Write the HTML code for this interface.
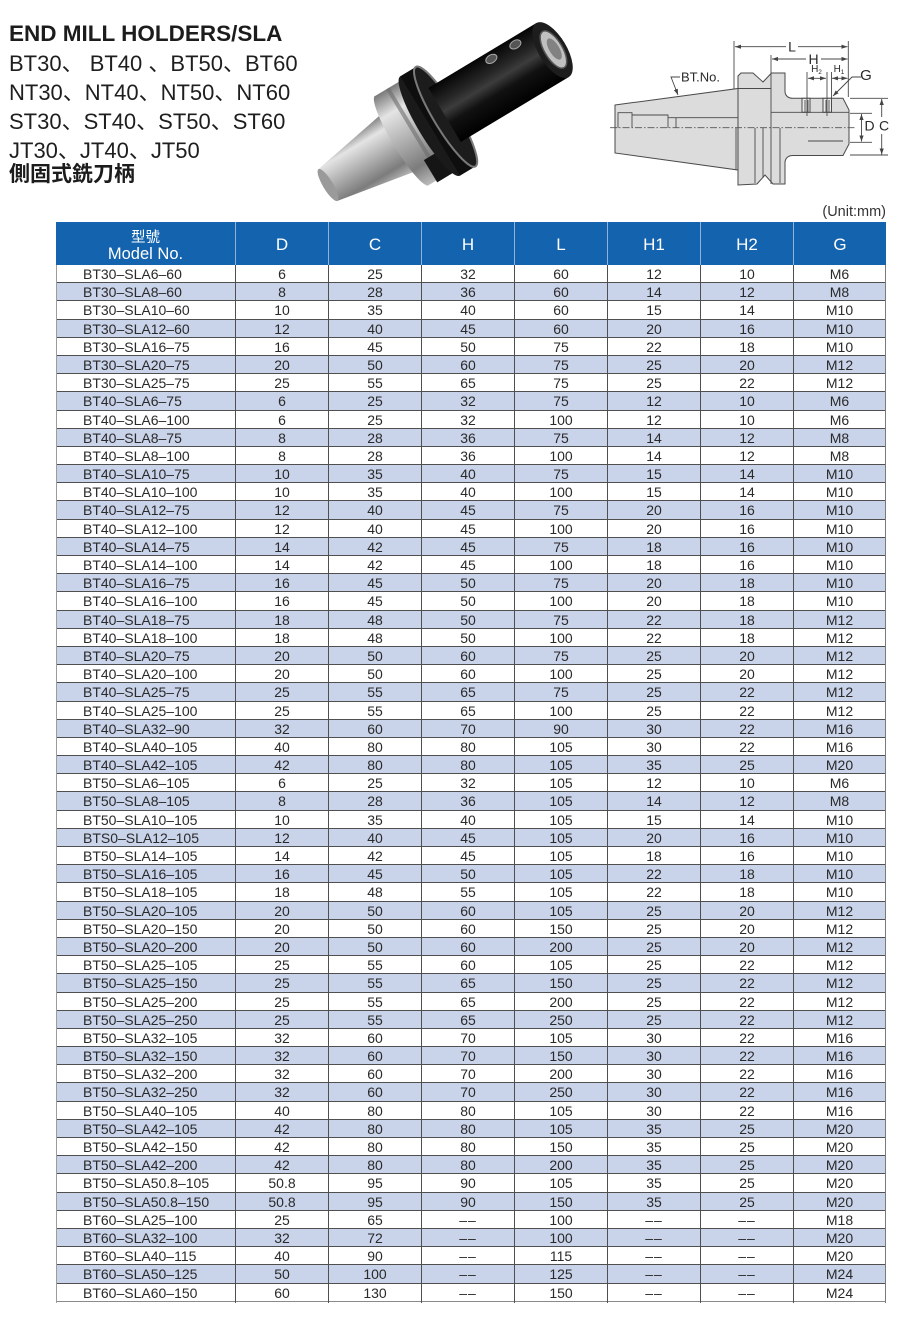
<!DOCTYPE html>
<html><head><meta charset="utf-8">
<style>
html,body{margin:0;padding:0;background:#fff;}
body{width:900px;height:1317px;position:relative;overflow:hidden;font-family:"Liberation Sans","Noto Sans CJK JP",sans-serif;}
.ab{position:absolute;white-space:nowrap;}
.title{left:9px;top:21px;font-size:22.5px;font-weight:bold;line-height:26px;color:#1c1c1c;}
.ln{left:9px;font-size:22px;line-height:29px;color:#1e1e1e;font-family:"Liberation Sans","Noto Sans CJK JP",sans-serif;}
.cjk{left:9px;top:162px;font-size:21px;line-height:26px;font-weight:bold;color:#1c1c1c;font-family:"Liberation Sans","Noto Sans CJK TC",sans-serif;}
.unit{right:14px;top:204px;font-size:14.5px;line-height:16px;color:#333;}
.hd{position:absolute;left:56px;top:222px;width:830px;height:43px;background:#1463ae;display:grid;grid-template-columns:179px repeat(7,93px);color:#fff;}
.hd span{border-left:1px solid #8fb2da;text-align:center;font-size:17px;line-height:41px;padding-top:2px;box-sizing:border-box;height:43px;}
.hd span:first-child{border-left:none;padding-top:8px;line-height:16px;}
.hd span:first-child b{display:block;font-weight:normal;font-size:14.5px;line-height:16px;font-family:"Liberation Sans","Noto Sans CJK TC",sans-serif;}
.hd span:first-child i{display:block;font-style:normal;font-size:16.5px;line-height:17px;}
.t{position:absolute;left:56px;top:265px;width:830px;font-size:14px;color:#2a2a2a;}
.t div{display:grid;grid-template-columns:179px repeat(7,93px);height:18.193px;box-sizing:border-box;border-bottom:1px solid #4f4f4f;}
.t div:nth-child(even){background:#c9d3e9;}
.t div:last-child{border-bottom-color:#8a8a8a;}
.t span{border-left:1px solid #4f4f4f;text-align:center;line-height:19.5px;white-space:nowrap;}
.t span:first-child{border-left-color:#9c9c9c;text-align:left;padding-left:26px;}
.t span:last-child{border-right:1px solid #7a7a7a;}
.d{letter-spacing:1px;}
</style></head><body>

<svg class="ab" style="left:0;top:0" width="900" height="222" viewBox="0 0 900 222">
<defs>
<linearGradient id="sv" x1="0" y1="0" x2="0" y2="1">
<stop offset="0" stop-color="#7a7a7a"/><stop offset="0.22" stop-color="#e4e4e4"/><stop offset="0.5" stop-color="#b2b2b2"/><stop offset="0.8" stop-color="#7c7c7c"/><stop offset="1" stop-color="#bcbcbc"/>
</linearGradient>
<linearGradient id="bk" x1="0" y1="0" x2="0" y2="1">
<stop offset="0" stop-color="#050505"/><stop offset="0.3" stop-color="#262626"/><stop offset="0.45" stop-color="#3c3c3c"/><stop offset="0.65" stop-color="#111"/><stop offset="1" stop-color="#000"/>
</linearGradient>
<marker id="a" viewBox="0 0 10 10" refX="10" refY="5" markerWidth="6" markerHeight="6" markerUnits="userSpaceOnUse" orient="auto-start-reverse"><path d="M0,1.5 L10,5 L0,8.5z" fill="#444"/></marker>
</defs>

<!-- photo -->
<g transform="translate(328,185) rotate(-31)">
<path d="M0,-18.5 L86,-34 L86,34 L0,18.5 Z" fill="url(#sv)"/>
<ellipse cx="0" cy="0" rx="5" ry="18.5" fill="#9a9a9a"/>
<rect x="85" y="-52" width="30" height="104" fill="url(#sv)"/>
<ellipse cx="86" cy="0" rx="9" ry="52" fill="url(#sv)"/>
<rect x="99" y="-52" width="4" height="104" fill="#6d6d6d" opacity="0.6"/>
<rect x="95" y="28" width="22" height="26" fill="#151515"/>
<ellipse cx="118" cy="2" rx="12" ry="58" fill="#1a1a1a"/>
<rect x="118" y="-56" width="18" height="116" fill="#0e0e0e"/>
<ellipse cx="136" cy="2" rx="12" ry="58" fill="#1c1c1c" stroke="#7a7a7a" stroke-width="2"/>
<rect x="136" y="-31.5" width="126" height="63" fill="url(#bk)"/>
<ellipse cx="262" cy="0" rx="14" ry="31.5" fill="#1d1d1d"/>
<ellipse cx="263" cy="0" rx="9" ry="21" fill="#c0c0c0" stroke="#555" stroke-width="1.5"/>
<ellipse cx="264" cy="0" rx="5" ry="12" fill="#828282"/>
<ellipse cx="205" cy="-24" rx="6" ry="4" fill="#555" stroke="#aaa" stroke-width="1"/>
<ellipse cx="233" cy="-24" rx="6" ry="4" fill="#555" stroke="#aaa" stroke-width="1"/>
</g>

<!-- technical drawing -->
<g stroke="#4a4a4a" stroke-width="1" fill="#dcdcdc">
<path d="M615,105 L738,88.5 L738,170 L615,153 Z"/>
<path d="M738,185 L738,76 L741,73 L753,73 L763,82 L771.5,73 L785,73 L785,92 Q786,98.3 793,98.3 L843,98.3 L849,110 L849,144 L843,155.5 L793,155.5 Q786,155.5 785,162 L785,184 L773,184 L765,175 L757,184 Z"/>
<rect x="802" y="98.3" width="8" height="14" fill="#ececec"/>
<rect x="823" y="98.3" width="8.5" height="14" fill="#ececec"/>
</g>
<g stroke="#4a4a4a" stroke-width="0.9" fill="none">
<path d="M618,128 V112.7 H632 V128"/>
<path d="M632,115 H668 V128"/>
<path d="M668,117.7 H738"/>
<path d="M676,117.7 V128"/>
<path d="M736,128 V170"/>
<path d="M755,128 V183 M763,128 V178 M780,128 V183 M771,55 V184"/>
<path d="M738,88.5 H771"/>
<path d="M771,112.3 H849"/>
<path d="M808,141 H843"/>
<path d="M805,100 V112 M808,100 V112 M826,100 V112 M829,100 V112"/>
<path d="M734,41 V89 M848.3,41 V97"/>
<path d="M807,72 V116 M827,72 V116 M831.5,72 V98"/>
<path d="M850,113.3 H872 M850,142.3 H872 M850,98.3 H888 M850,155 H888"/>
</g>
<path d="M610,127.7 H856" stroke="#555" stroke-width="0.9" stroke-dasharray="7 2 1.5 2" fill="none"/>
<g stroke="#444" stroke-width="0.9" fill="none">
<path d="M786,46.7 H735" marker-end="url(#a)"/>
<path d="M798,46.7 H847.5" marker-end="url(#a)"/>
<path d="M806,59 H772" marker-end="url(#a)"/>
<path d="M821,59 H847.5" marker-end="url(#a)"/>
<path d="M808,78.3 H826" marker-start="url(#a)" marker-end="url(#a)"/>
<path d="M832,78.3 H847.5" marker-start="url(#a)" marker-end="url(#a)"/>
<path d="M861.5,114 V141.5" marker-start="url(#a)" marker-end="url(#a)"/>
<path d="M881.7,117 V99" marker-end="url(#a)"/>
<path d="M881.7,134 V154.5" marker-end="url(#a)"/>
<path d="M861,77 H852 L833,96" marker-end="url(#a)"/>
<path d="M680,77 H671 L678,95" marker-end="url(#a)"/>
</g>
<g font-family="Liberation Sans, sans-serif" fill="#2a2a2a">
<text x="792" y="51.5" font-size="14" text-anchor="middle">L</text>
<text x="813.5" y="64" font-size="14" text-anchor="middle">H</text>
<text x="816.5" y="72" font-size="10" text-anchor="middle">H<tspan font-size="6.5" dy="2">2</tspan></text>
<text x="839" y="72" font-size="10" text-anchor="middle">H<tspan font-size="6.5" dy="2">1</tspan></text>
<text x="866" y="80" font-size="15" text-anchor="middle">G</text>
<text x="681" y="81.5" font-size="13">BT.No.</text>
<text x="864.5" y="130.5" font-size="14">D</text>
<text x="884" y="130.5" font-size="14" text-anchor="middle">C</text>
</g>
</svg>

<div class="ab title">END MILL HOLDERS/SLA</div>
<div class="ab ln" style="top:49px">BT30、 BT40 、BT50、BT60</div>
<div class="ab ln" style="top:78px">NT30、NT40、NT50、NT60</div>
<div class="ab ln" style="top:107px">ST30、ST40、ST50、ST60</div>
<div class="ab ln" style="top:136px">JT30、JT40、JT50</div>
<div class="ab cjk">側固式銑刀柄</div>
<div class="ab unit">(Unit:mm)</div>

<div class="hd"><span><b>型號</b><i>Model No.</i></span><span>D</span><span>C</span><span>H</span><span>L</span><span>H1</span><span>H2</span><span>G</span></div>

<div class="t">
<div><span>BT30–SLA6–60</span><span>6</span><span>25</span><span>32</span><span>60</span><span>12</span><span>10</span><span>M6</span></div>
<div><span>BT30–SLA8–60</span><span>8</span><span>28</span><span>36</span><span>60</span><span>14</span><span>12</span><span>M8</span></div>
<div><span>BT30–SLA10–60</span><span>10</span><span>35</span><span>40</span><span>60</span><span>15</span><span>14</span><span>M10</span></div>
<div><span>BT30–SLA12–60</span><span>12</span><span>40</span><span>45</span><span>60</span><span>20</span><span>16</span><span>M10</span></div>
<div><span>BT30–SLA16–75</span><span>16</span><span>45</span><span>50</span><span>75</span><span>22</span><span>18</span><span>M10</span></div>
<div><span>BT30–SLA20–75</span><span>20</span><span>50</span><span>60</span><span>75</span><span>25</span><span>20</span><span>M12</span></div>
<div><span>BT30–SLA25–75</span><span>25</span><span>55</span><span>65</span><span>75</span><span>25</span><span>22</span><span>M12</span></div>
<div><span>BT40–SLA6–75</span><span>6</span><span>25</span><span>32</span><span>75</span><span>12</span><span>10</span><span>M6</span></div>
<div><span>BT40–SLA6–100</span><span>6</span><span>25</span><span>32</span><span>100</span><span>12</span><span>10</span><span>M6</span></div>
<div><span>BT40–SLA8–75</span><span>8</span><span>28</span><span>36</span><span>75</span><span>14</span><span>12</span><span>M8</span></div>
<div><span>BT40–SLA8–100</span><span>8</span><span>28</span><span>36</span><span>100</span><span>14</span><span>12</span><span>M8</span></div>
<div><span>BT40–SLA10–75</span><span>10</span><span>35</span><span>40</span><span>75</span><span>15</span><span>14</span><span>M10</span></div>
<div><span>BT40–SLA10–100</span><span>10</span><span>35</span><span>40</span><span>100</span><span>15</span><span>14</span><span>M10</span></div>
<div><span>BT40–SLA12–75</span><span>12</span><span>40</span><span>45</span><span>75</span><span>20</span><span>16</span><span>M10</span></div>
<div><span>BT40–SLA12–100</span><span>12</span><span>40</span><span>45</span><span>100</span><span>20</span><span>16</span><span>M10</span></div>
<div><span>BT40–SLA14–75</span><span>14</span><span>42</span><span>45</span><span>75</span><span>18</span><span>16</span><span>M10</span></div>
<div><span>BT40–SLA14–100</span><span>14</span><span>42</span><span>45</span><span>100</span><span>18</span><span>16</span><span>M10</span></div>
<div><span>BT40–SLA16–75</span><span>16</span><span>45</span><span>50</span><span>75</span><span>20</span><span>18</span><span>M10</span></div>
<div><span>BT40–SLA16–100</span><span>16</span><span>45</span><span>50</span><span>100</span><span>20</span><span>18</span><span>M10</span></div>
<div><span>BT40–SLA18–75</span><span>18</span><span>48</span><span>50</span><span>75</span><span>22</span><span>18</span><span>M12</span></div>
<div><span>BT40–SLA18–100</span><span>18</span><span>48</span><span>50</span><span>100</span><span>22</span><span>18</span><span>M12</span></div>
<div><span>BT40–SLA20–75</span><span>20</span><span>50</span><span>60</span><span>75</span><span>25</span><span>20</span><span>M12</span></div>
<div><span>BT40–SLA20–100</span><span>20</span><span>50</span><span>60</span><span>100</span><span>25</span><span>20</span><span>M12</span></div>
<div><span>BT40–SLA25–75</span><span>25</span><span>55</span><span>65</span><span>75</span><span>25</span><span>22</span><span>M12</span></div>
<div><span>BT40–SLA25–100</span><span>25</span><span>55</span><span>65</span><span>100</span><span>25</span><span>22</span><span>M12</span></div>
<div><span>BT40–SLA32–90</span><span>32</span><span>60</span><span>70</span><span>90</span><span>30</span><span>22</span><span>M16</span></div>
<div><span>BT40–SLA40–105</span><span>40</span><span>80</span><span>80</span><span>105</span><span>30</span><span>22</span><span>M16</span></div>
<div><span>BT40–SLA42–105</span><span>42</span><span>80</span><span>80</span><span>105</span><span>35</span><span>25</span><span>M20</span></div>
<div><span>BT50–SLA6–105</span><span>6</span><span>25</span><span>32</span><span>105</span><span>12</span><span>10</span><span>M6</span></div>
<div><span>BT50–SLA8–105</span><span>8</span><span>28</span><span>36</span><span>105</span><span>14</span><span>12</span><span>M8</span></div>
<div><span>BT50–SLA10–105</span><span>10</span><span>35</span><span>40</span><span>105</span><span>15</span><span>14</span><span>M10</span></div>
<div><span>BTS0–SLA12–105</span><span>12</span><span>40</span><span>45</span><span>105</span><span>20</span><span>16</span><span>M10</span></div>
<div><span>BT50–SLA14–105</span><span>14</span><span>42</span><span>45</span><span>105</span><span>18</span><span>16</span><span>M10</span></div>
<div><span>BT50–SLA16–105</span><span>16</span><span>45</span><span>50</span><span>105</span><span>22</span><span>18</span><span>M10</span></div>
<div><span>BT50–SLA18–105</span><span>18</span><span>48</span><span>55</span><span>105</span><span>22</span><span>18</span><span>M10</span></div>
<div><span>BT50–SLA20–105</span><span>20</span><span>50</span><span>60</span><span>105</span><span>25</span><span>20</span><span>M12</span></div>
<div><span>BT50–SLA20–150</span><span>20</span><span>50</span><span>60</span><span>150</span><span>25</span><span>20</span><span>M12</span></div>
<div><span>BT50–SLA20–200</span><span>20</span><span>50</span><span>60</span><span>200</span><span>25</span><span>20</span><span>M12</span></div>
<div><span>BT50–SLA25–105</span><span>25</span><span>55</span><span>60</span><span>105</span><span>25</span><span>22</span><span>M12</span></div>
<div><span>BT50–SLA25–150</span><span>25</span><span>55</span><span>65</span><span>150</span><span>25</span><span>22</span><span>M12</span></div>
<div><span>BT50–SLA25–200</span><span>25</span><span>55</span><span>65</span><span>200</span><span>25</span><span>22</span><span>M12</span></div>
<div><span>BT50–SLA25–250</span><span>25</span><span>55</span><span>65</span><span>250</span><span>25</span><span>22</span><span>M12</span></div>
<div><span>BT50–SLA32–105</span><span>32</span><span>60</span><span>70</span><span>105</span><span>30</span><span>22</span><span>M16</span></div>
<div><span>BT50–SLA32–150</span><span>32</span><span>60</span><span>70</span><span>150</span><span>30</span><span>22</span><span>M16</span></div>
<div><span>BT50–SLA32–200</span><span>32</span><span>60</span><span>70</span><span>200</span><span>30</span><span>22</span><span>M16</span></div>
<div><span>BT50–SLA32–250</span><span>32</span><span>60</span><span>70</span><span>250</span><span>30</span><span>22</span><span>M16</span></div>
<div><span>BT50–SLA40–105</span><span>40</span><span>80</span><span>80</span><span>105</span><span>30</span><span>22</span><span>M16</span></div>
<div><span>BT50–SLA42–105</span><span>42</span><span>80</span><span>80</span><span>105</span><span>35</span><span>25</span><span>M20</span></div>
<div><span>BT50–SLA42–150</span><span>42</span><span>80</span><span>80</span><span>150</span><span>35</span><span>25</span><span>M20</span></div>
<div><span>BT50–SLA42–200</span><span>42</span><span>80</span><span>80</span><span>200</span><span>35</span><span>25</span><span>M20</span></div>
<div><span>BT50–SLA50.8–105</span><span>50.8</span><span>95</span><span>90</span><span>105</span><span>35</span><span>25</span><span>M20</span></div>
<div><span>BT50–SLA50.8–150</span><span>50.8</span><span>95</span><span>90</span><span>150</span><span>35</span><span>25</span><span>M20</span></div>
<div><span>BT60–SLA25–100</span><span>25</span><span>65</span><span class="d">––</span><span>100</span><span class="d">––</span><span class="d">––</span><span>M18</span></div>
<div><span>BT60–SLA32–100</span><span>32</span><span>72</span><span class="d">––</span><span>100</span><span class="d">––</span><span class="d">––</span><span>M20</span></div>
<div><span>BT60–SLA40–115</span><span>40</span><span>90</span><span class="d">––</span><span>115</span><span class="d">––</span><span class="d">––</span><span>M20</span></div>
<div><span>BT60–SLA50–125</span><span>50</span><span>100</span><span class="d">––</span><span>125</span><span class="d">––</span><span class="d">––</span><span>M24</span></div>
<div><span>BT60–SLA60–150</span><span>60</span><span>130</span><span class="d">––</span><span>150</span><span class="d">––</span><span class="d">––</span><span>M24</span></div>
</div>
</body></html>
